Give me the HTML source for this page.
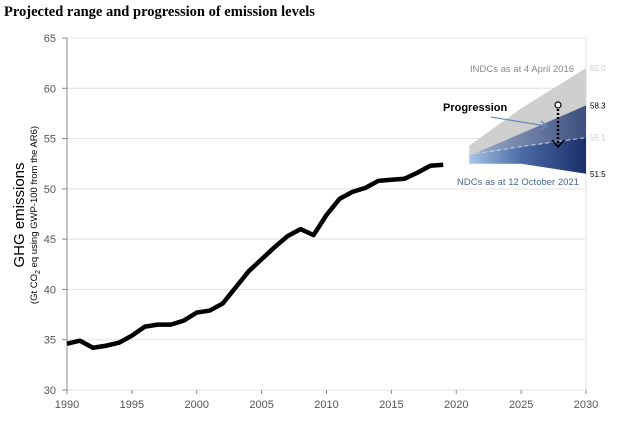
<!DOCTYPE html>
<html><head><meta charset="utf-8"><style>
body{margin:0;background:#fff;width:623px;height:425px;overflow:hidden}
svg text{font-family:"Liberation Sans",Arial,sans-serif}
</style></head><body>
<svg id="c" width="623" height="425">
<defs>
<linearGradient id="gB" x1="0" x2="1" y1="0" y2="0"><stop offset="0" stop-color="#a8c4e6"/><stop offset="0.45" stop-color="#4a6aa6"/><stop offset="1" stop-color="#1b2f6a"/></linearGradient>
<linearGradient id="gT" x1="0" x2="1" y1="0" y2="0"><stop offset="0" stop-color="#9fb0cc"/><stop offset="1" stop-color="#3d4f7e"/></linearGradient>
</defs>
<text x="4" y="16" font-weight="bold" font-size="14.5" style="font-family:'Liberation Serif',serif">Projected range and progression of emission levels</text>
<g id="grid"></g><g id="axes"></g><g id="bands"></g><g id="line"></g>
<text transform="translate(24,215) rotate(-90)" text-anchor="middle" font-size="15">GHG emissions</text>
<text transform="translate(37,215) rotate(-90)" text-anchor="middle" font-size="9.5">(Gt CO<tspan font-size="7" dy="3">2</tspan><tspan dy="-3"> eq using GWP-100 from the AR6)</tspan></text>
<text x="470" y="72" font-size="9.5" fill="#888">INDCs as at 4 April 2016</text>
<text x="457" y="185" font-size="9.5" fill="#4a6490">NDCs as at 12 October 2021</text>
<text x="443" y="111" font-size="11" font-weight="bold">Progression</text>
<path d="M491,117 L546,126" stroke="#6c88b8" stroke-width="1.2" fill="none"/>
<path d="M541,121 L547,126 L540,130" stroke="#6c88b8" stroke-width="1.2" fill="none"/>
<circle cx="558" cy="105" r="3" fill="#fff" stroke="#000" stroke-width="1.2"/>
<path d="M558,109 L558,146" stroke="#000" stroke-width="2.5" stroke-dasharray="2,2"/>
<path d="M552,140 L558,147 L564,140" stroke="#000" stroke-width="1.5" fill="none"/>
</svg>
<script>
const years=[1990,1991,1992,1993,1994,1995,1996,1997,1998,1999,2000,2001,2002,2003,2004,2005,2006,2007,2008,2009,2010,2011,2012,2013,2014,2015,2016,2017,2018,2019];
const emissions=[34.6,34.9,34.2,34.4,34.7,35.4,36.3,36.5,36.5,36.9,37.7,37.9,38.6,40.2,41.8,43.0,44.2,45.3,46.0,45.4,47.4,49.0,49.7,50.1,50.8,50.9,51.0,51.6,52.3,52.4];
const yTicks=[30,35,40,45,50,55,60,65];
const xTicks=[1990,1995,2000,2005,2010,2015,2020,2025,2030];
const projYears=[2021,2025,2030];
const indcTop=[54.3,58.0,62.0];
const ndcTop=[53.3,55.5,58.3];
const ndcMid=[53.4,54.2,55.1];
const ndcBottom=[52.5,52.5,51.5];
const endLabels=["62.0","58.3","55.1","51.5"];
const endValues=[62.0,58.3,55.1,51.5];
const endColors=["#ccc","#000","#ccc","#000"];
const X=y=>67+(y-1990)*(519/40);
const Y=v=>390-(v-30)*(352/35);
const ns="http://www.w3.org/2000/svg";
function mk(t,a,p){const e=document.createElementNS(ns,t);for(const k in a)e.setAttribute(k,a[k]);document.querySelector(p).appendChild(e);return e;}
yTicks.forEach(v=>{
 const g=mk('line',{x1:67,x2:586,y1:Y(v),y2:Y(v),stroke:'#e2e2e2'},'#grid');
 
 
 mk('line',{x1:62,x2:67,y1:Y(v),y2:Y(v),stroke:'#888'},'#axes');
 const t=mk('text',{x:56,y:Y(v)+4,'text-anchor':'end','font-size':11,fill:'#555'},'#axes');t.textContent=v;
 
 
});
const ax=mk('line',{x1:67,x2:67,y1:Y(65),y2:Y(30),stroke:'#888'},'#axes');


const rx=mk('line',{x1:586,x2:586,y1:Y(65),y2:Y(30),stroke:'#e2e2e2'},'#axes');


xTicks.forEach(y=>{
 mk('line',{x1:X(y),x2:X(y),y1:390,y2:394,stroke:'#888'},'#axes');
 const t=mk('text',{x:X(y),y:408,'text-anchor':'middle','font-size':11,fill:'#555'},'#axes');t.textContent=y;
 
 
});
function poly(top,bot){let p=projYears.map((y,i)=>X(y)+','+Y(top[i]));for(let i=projYears.length-1;i>=0;i--)p.push(X(projYears[i])+','+Y(bot[i]));return p.join(' ');}
const g1=mk('polygon',{points:poly(indcTop,ndcTop),fill:'#cfcfcf'},'#bands');


const g2=mk('polygon',{points:poly(ndcTop,ndcMid),fill:'url(#gT)'},'#bands');


const g3=mk('polygon',{points:poly(ndcMid,ndcBottom),fill:'url(#gB)'},'#bands');


const dl=mk('polyline',{points:projYears.map((y,i)=>X(y)+','+Y(ndcMid[i])).join(' '),fill:'none',stroke:'#c8d6ee','stroke-dasharray':'4,3'},'#bands');


endLabels.forEach((s,i)=>{const t=mk('text',{x:590,y:Y(endValues[i])+3,'font-size':8,fill:endColors[i]},'#bands');t.textContent=s;
 
 });
const ln=mk('polyline',{points:years.map((y,i)=>X(y)+','+Y(emissions[i])).join(' '),fill:'none',stroke:'#000','stroke-width':4.5,'stroke-linejoin':'round'},'#line');


</script>
</body></html>
